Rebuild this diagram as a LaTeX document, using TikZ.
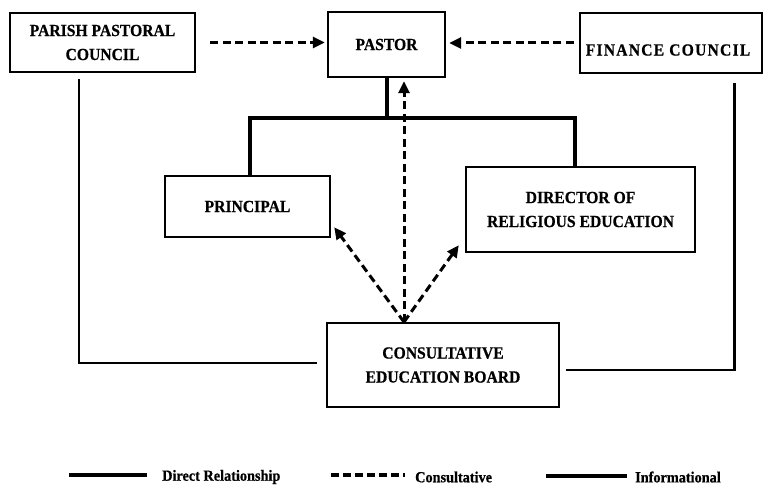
\documentclass[tikz,border=0pt]{standalone}
\usepackage{fontspec}
\setmainfont[FakeStretch=0.92,BoldFeatures={FakeBold=0.6}]{Liberation Serif}
\usetikzlibrary{arrows.meta,calc}
\begin{document}
\begin{tikzpicture}[x=1pt,y=-1pt,
  box/.style={draw,line width=2.4pt,align=center,inner sep=0pt,
    font=\bfseries\fontsize{17}{24}\selectfont},
  txt/.style={align=center,inner sep=0pt,font=\bfseries\fontsize{17}{24}\selectfont},
  cons/.style={line width=3pt,dash pattern=on 8pt off 4.5pt,
    -{Triangle[length=12pt,width=11pt]}},
  direct/.style={line width=4pt},
  info/.style={line width=2.6pt},
  legtxt/.style={anchor=west,inner sep=0pt,font=\bfseries\fontsize{15.5}{18}\selectfont}]
\useasboundingbox (0,0) rectangle (763,494);

% boxes
\node[box,minimum width=185pt,minimum height=59pt] (ppc) at (102.5,42.5) {PARISH PASTORAL\\COUNCIL};
\node[box,minimum width=117pt,minimum height=65pt] (pastor) at (386.5,44.5) {PASTOR};
\node[box,minimum width=182pt,minimum height=60pt] (fin) at (671,43) {};
\node[txt] (fintxt) at ($(fin.center)+(-3,7)$) {\addfontfeature{LetterSpace=7}FINANCE COUNCIL};
\node[box,minimum width=165pt,minimum height=61pt] (principal) at (247.5,206.5) {PRINCIPAL};
\node[box,minimum width=229pt,minimum height=85pt] (dre) at (580.5,209.5) {DIRECTOR OF\\RELIGIOUS EDUCATION};
\node[box,minimum width=232pt,minimum height=84pt] (ceb) at (443,365) {CONSULTATIVE\\EDUCATION BOARD};

% direct relationship lines
\draw[direct] (pastor.south) -- ++(0,40) coordinate (tj);
\draw[direct] ($(principal.north)+(2.5,0)$) |- (tj) -| ($(dre.north)+(-5.5,0)$);

% consultative arrows
\draw[cons,shorten <=14pt,shorten >=2pt] (ppc.east) -- (ppc.east -| pastor.west);
\draw[cons,shorten <=5pt,shorten >=3pt] (fin.west) -- (fin.west -| pastor.east);
\coordinate (src) at (404,322);
\draw[cons,shorten >=3pt] (src) -- (src |- pastor.south);
\draw[cons] (src) -- ($(principal.south east)+(3,-11)$);
\draw[cons] (src) -- ($(dre.south west)+(-6,-8)$);

% informational lines
\draw[info] ($(ppc.south west)+(70,6)$) |- ($(ceb.west)+(-9,-2)$);
\draw[info] ($(fin.south east)+(-29,9)$) |- ($(ceb.east)+(6,5)$);

% legend
\coordinate (la1) at (69,475);  \coordinate (la2) at (147,475);
\coordinate (lb1) at (331,475); \coordinate (lb2) at (405,475);
\coordinate (lc1) at (546,476); \coordinate (lc2) at (627,476);
\draw[direct] (la1) -- (la2);
\draw[line width=4pt,dash pattern=on 8pt off 4pt] (lb1) -- (lb2);
\draw[line width=3.5pt] (lc1) -- (lc2);
\node[legtxt] (l1) at (162,477) {Direct Relationship};
\node[legtxt] (l2) at (415,477) {Consultative};
\node[legtxt] (l3) at (635,477) {Informational};
\end{tikzpicture}
\end{document}
